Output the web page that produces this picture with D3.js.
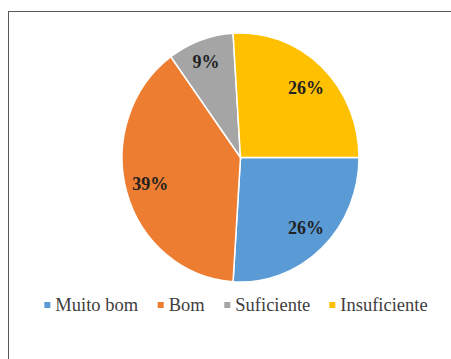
<!DOCTYPE html>
<html>
<head>
<meta charset="utf-8">
<script src="https://cdn.jsdelivr.net/npm/d3@7"></script>
<style>
  body { margin: 0; background: #fff; }
  svg { display: block; }
</style>
</head>
<body>
<svg id="chart" width="451" height="359"></svg>
<script>
const categories = ["Muito bom", "Bom", "Suficiente", "Insuficiente"];
const values = [0.26, 0.39, 0.09, 0.26];
const colors = ["#5B9BD5", "#ED7D31", "#A5A5A5", "#FFC000"];

const svg = d3.select("#chart");
const serif = "'Liberation Serif', 'Times New Roman', serif";

// chart frame (right and bottom edges run off the picture)
svg.append("rect")
  .attr("x", 8.5).attr("y", 11.5)
  .attr("width", 470).attr("height", 380)
  .attr("fill", "#fff")
  .attr("stroke", "#595959")
  .attr("stroke-width", 1);

const cx = 240.5, cy = 157.5;
const r = 120;
// the source picture is a bit stretched vertically
const sx = 118.5 / r, sy = 124.5 / r;

const data = categories.map((c, i) => ({ name: c, value: values[i], color: colors[i] }));

const pie = d3.pie()
  .value(d => d.value)
  .sort(null)
  .startAngle(Math.PI / 2)
  .endAngle(Math.PI / 2 + 2 * Math.PI);

const arcs = pie(data);
const arc = d3.arc().innerRadius(0).outerRadius(r);

const g = svg.append("g")
  .attr("transform", `translate(${cx},${cy}) scale(${sx},${sy})`);

g.selectAll("path")
  .data(arcs)
  .join("path")
  .attr("d", arc)
  .attr("fill", d => d.data.color)
  .attr("stroke", "#fff")
  .attr("stroke-width", 1.5)
  .attr("vector-effect", "non-scaling-stroke");

// data labels: "inside end" - push along the mid angle until the far
// corner of the label box sits a little inside the rim
const fmt = d3.format(".0%");
const rimInset = 113;
const labels = svg.append("g").selectAll("text")
  .data(arcs)
  .join("text")
  .attr("text-anchor", "middle")
  .attr("font-family", serif)
  .attr("font-weight", "bold")
  .attr("font-size", 18)
  .attr("fill", "#222")
  .text(d => fmt(d.data.value));

labels.each(function (d) {
  const bb = this.getBBox();
  const hw = bb.width / 2, hh = 6.5;
  const a = (d.startAngle + d.endAngle) / 2;
  const ux = Math.sin(a), uy = -Math.cos(a);
  const ox = Math.sign(ux) * hw, oy = Math.sign(uy) * hh;
  // solve |d*u + o| = rimInset
  const b = ux * ox + uy * oy;
  const c = ox * ox + oy * oy - rimInset * rimInset;
  const dist = -b + Math.sqrt(b * b - c);
  d3.select(this)
    .attr("x", cx + ux * dist)
    .attr("y", cy + uy * dist + 6.5);
});

// legend
const legend = svg.append("g");
const items = legend.selectAll("g")
  .data(data)
  .join("g");

items.append("rect")
  .attr("width", 6).attr("height", 6)
  .attr("y", -9)
  .attr("fill", d => d.color);

items.append("text")
  .attr("x", 11)
  .attr("font-family", serif)
  .attr("font-size", 18.5)
  .attr("fill", "#404040")
  .text(d => d.name);

let xpos = 0;
const gap = 19;
items.each(function () {
  const w = this.getBBox().width;
  d3.select(this).attr("transform", `translate(${xpos},0)`);
  xpos += w + gap;
});
const total = xpos - gap;
legend.attr("transform", `translate(${236 - total / 2},311)`);
</script>
</body>
</html>
